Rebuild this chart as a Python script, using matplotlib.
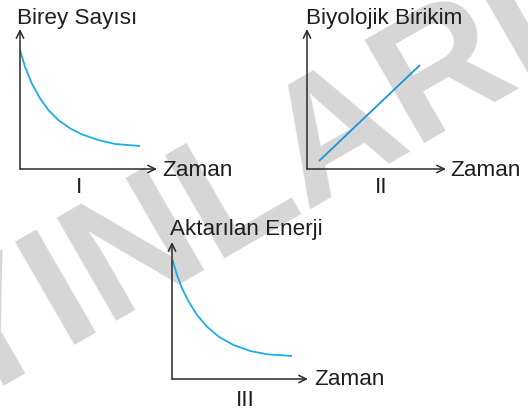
import matplotlib
matplotlib.use("Agg")
import matplotlib.pyplot as plt

W, H = 528, 411
DPI = 100

# ---- data ----
t_I = [0, 0.5, 1.17, 2.0, 2.83, 3.83, 5.0, 6.17, 7.83, 9.5, 12.0]
birey_sayisi = [11.9, 10.23, 8.57, 7.07, 5.9, 4.9, 4.07, 3.47, 2.9, 2.5, 2.3]

t_II = [1.2, 11.3]
biyolojik_birikim = [0.8, 10.4]

t_III = [0.05, 0.5, 1.0, 1.67, 2.5, 3.5, 4.67, 6.17, 7.83, 9.5, 12.0]
aktarilan_enerji = [11.9, 10.4, 9.07, 7.73, 6.4, 5.23, 4.23, 3.4, 2.8, 2.47, 2.3]

y_labels = ["Birey Sayısı", "Biyolojik Birikim", "Aktarılan Enerji"]
x_label = "Zaman"
panel_labels = ["I", "II", "III"]
watermark = "YAYINLARI"

plt.rcParams['font.family'] = ['Liberation Sans', 'DejaVu Sans']

fig = plt.figure(figsize=(W / DPI, H / DPI), dpi=DPI)
fig.patch.set_facecolor('white')


def fx(x):
    return x / W


def fy(y):
    return 1 - y / H


# watermark (behind everything)
fig.text(fx(173.5), fy(285), watermark, fontsize=124.6, fontweight='bold',
         color='#d6d6d6', rotation=30, rotation_mode='anchor',
         ha='center', va='baseline', zorder=-10)

TXT = '#1f1f1f'
AX = '#2b2b2b'
BLUE = '#1aaee6'
BLUE2 = '#1b95d6'

# panels: (x0, x1, y_origin, y_top) in pixels
panels = [(20, 157, 169, 29), (307, 446, 169, 29), (172, 308, 379, 242)]
series = [(t_I, birey_sayisi, BLUE), (t_II, biyolojik_birikim, BLUE2),
          (t_III, aktarilan_enerji, BLUE)]

for (x0, x1, y0, y1), (t, v, c) in zip(panels, series):
    ax = fig.add_axes([fx(x0), fy(y0), (x1 - x0) / W, (y0 - y1) / H])
    ax.set_zorder(1)
    ax.set_xlim(0, (x1 - x0) / 10)
    ax.set_ylim(0, (y0 - y1) / 10)
    ax.axis('off')
    ax.patch.set_alpha(0)
    ax.plot(t, v, color=c, lw=1.3, solid_capstyle='butt', solid_joinstyle='round',
            zorder=3)
    ap = dict(arrowstyle='->,head_length=0.45,head_width=0.22', color=AX,
              lw=1.1, shrinkA=0, shrinkB=0, mutation_scale=12)
    ax.annotate('', xy=(1, 0), xytext=(0, 0), xycoords='axes fraction',
                arrowprops=ap, zorder=4)
    ax.annotate('', xy=(0, 1), xytext=(0, 0), xycoords='axes fraction',
                arrowprops=ap, zorder=4)

FS = 16.2
kw = dict(fontsize=FS, color=TXT, va='baseline', zorder=5)
# y-axis titles
fig.text(fx(17), fy(24), y_labels[0], ha='left', **kw)
fig.text(fx(305.5), fy(24), y_labels[1], ha='left', **kw)
fig.text(fx(170), fy(235), y_labels[2], ha='left', **kw)
# x-axis titles
fig.text(fx(162), fy(176), x_label, ha='left', **kw)
fig.text(fx(450), fy(176), x_label, ha='left', **kw)
fig.text(fx(314), fy(385), x_label, ha='left', **kw)
# panel numbers
fig.text(fx(79), fy(193), panel_labels[0], ha='center', **kw)
fig.text(fx(380.7), fy(193), panel_labels[1], ha='center', **kw)
fig.text(fx(245), fy(406), panel_labels[2], ha='center', **kw)

fig.savefig('out.png', dpi=DPI, facecolor='white')
